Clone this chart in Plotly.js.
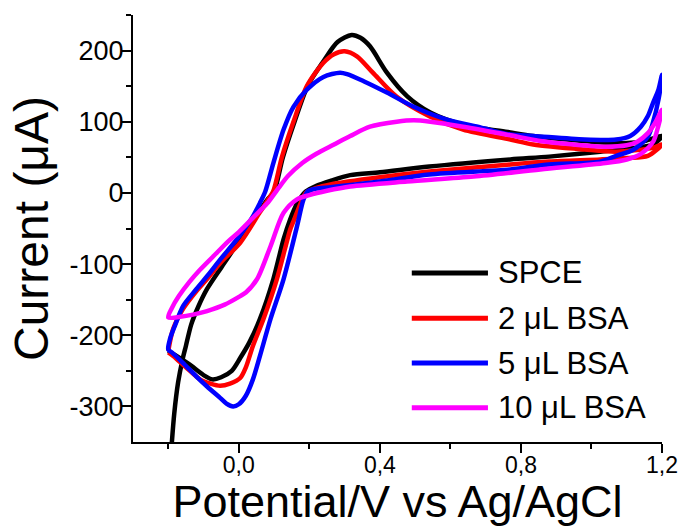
<!DOCTYPE html>
<html>
<head>
<meta charset="utf-8">
<script src="https://cdn.plot.ly/plotly-3.0.1.min.js"></script>
<style>html,body{margin:0;padding:0;background:#fff;}#chart{width:686px;height:527px;}</style>
</head>
<body>
<div id="chart"></div>
<script>
// ---- Data ----
const seriesNames = ["SPCE", "2 \u03bcL BSA", "5 \u03bcL BSA", "10 \u03bcL BSA"];
const seriesColors = ["#000000", "#ff0000", "#0000ff", "#ff00ff"];

// SPCE: initial tail, anodic scan, cathodic scan
const spceX = [-0.192, -0.183, -0.172, -0.160, -0.150, -0.135, -0.115, -0.090, -0.050, -0.016, 0.020, 0.052, 0.080, 0.100, 0.125, 0.158, 0.195, 0.240, 0.280, 0.320, 0.345, 0.372, 0.420, 0.477, 0.543, 0.636, 0.770, 0.835, 0.930, 1.000, 1.100, 1.150, 1.200,
  1.175, 1.120, 1.025, 0.880, 0.770, 0.540, 0.400, 0.316, 0.260, 0.220, 0.190, 0.165, 0.145, 0.127, 0.098, 0.060, 0.030, 0.004, -0.020, -0.050, -0.075, -0.100, -0.140, -0.180, -0.200];
const spceY = [-365, -310, -266, -235, -215, -185, -160, -135, -105, -80, -52, -30, -10, 2, 50, 100, 150, 185, 212, 222, 218, 206, 169, 136, 113, 96, 85, 80, 75, 72, 70, 73, 80,
  68, 63, 58, 51, 47, 37, 29, 25, 17, 10, 2, -15, -38, -65, -121, -177, -210, -232, -250, -259, -262, -256, -241, -228, -222];

// 2 uL BSA
const bsa2X = [-0.200, -0.186, -0.158, -0.120, -0.090, -0.050, 0.004, 0.060, 0.080, 0.098, 0.122, 0.155, 0.193, 0.240, 0.270, 0.300, 0.335, 0.380, 0.448, 0.543, 0.636, 0.770, 0.835, 0.980, 1.070, 1.170, 1.200,
  1.160, 1.100, 1.025, 0.880, 0.770, 0.540, 0.400, 0.260, 0.220, 0.190, 0.175, 0.155, 0.146, 0.108, 0.070, 0.040, 0.020, 0.004, -0.025, -0.053, -0.080, -0.110, -0.150, -0.186, -0.200];
const bsa2Y = [-222, -191, -163, -138, -121, -97, -70, -27, -12, 3, 50, 100, 150, 183, 195, 199, 192, 169, 135, 107, 89, 75, 68, 61, 58, 63, 68,
  52, 49, 47, 44, 40, 30, 22, 12, 7, 0, -15, -40, -51, -121, -177, -215, -245, -260, -268, -271, -268, -262, -245, -229, -224];

// 5 uL BSA
const bsa5X = [-0.200, -0.195, -0.180, -0.158, -0.120, -0.090, -0.050, -0.005, 0.040, 0.060, 0.075, 0.098, 0.127, 0.155, 0.193, 0.240, 0.287, 0.307, 0.354, 0.420, 0.496, 0.590, 0.685, 0.770, 0.835, 0.980, 1.070, 1.110, 1.140, 1.160, 1.175, 1.190, 1.200,
  1.190, 1.175, 1.160, 1.120, 1.070, 1.025, 0.880, 0.770, 0.540, 0.400, 0.260, 0.220, 0.195, 0.183, 0.165, 0.127, 0.090, 0.060, 0.040, 0.020, 0.000, -0.016, -0.035, -0.053, -0.090, -0.120, -0.160, -0.190, -0.200];
const bsa5Y = [-220, -205, -185, -159, -135, -117, -92, -65, -33, -14, 2, 42, 89, 121, 145, 163, 169, 167, 157, 141, 121, 103, 92, 82, 80, 75, 75, 80, 93, 108, 127, 145, 166,
  131, 100, 79, 61, 52, 44, 40, 33, 26, 16, 8, 6, 2, -10, -47, -121, -177, -229, -262, -285, -297, -300, -296, -288, -272, -258, -238, -224, -220];

// 10 uL BSA
const bsa10X = [-0.200, -0.190, -0.170, -0.140, -0.110, -0.070, -0.030, 0.000, 0.040, 0.080, 0.110, 0.140, 0.180, 0.220, 0.270, 0.316, 0.372, 0.448, 0.496, 0.543, 0.636, 0.770, 0.855, 0.950, 1.040, 1.100, 1.130, 1.160, 1.180, 1.200,
  1.190, 1.175, 1.140, 1.100, 1.040, 0.855, 0.666, 0.477, 0.316, 0.250, 0.200, 0.165, 0.127, 0.090, 0.052, 0.020, 0.004, -0.040, -0.090, -0.130, -0.166, -0.200];
const bsa10Y = [-175, -162, -145, -125, -108, -88, -68, -55, -35, -15, 5, 24, 42, 55, 68, 80, 93, 100, 102, 100, 93, 81, 73, 68, 65, 67, 72, 84, 98, 117,
  95, 72, 55, 47, 42, 33, 23, 16, 9, 3, -3, -9, -28, -75, -121, -140, -145, -157, -166, -171, -174, -175];

const seriesX = [spceX, bsa2X, bsa5X, bsa10X];
const seriesY = [spceY, bsa2Y, bsa5Y, bsa10Y];

// Axes
const xTickVals = [0.0, 0.4, 0.8, 1.2];
const xTickText = ["0,0", "0,4", "0,8", "1,2"];
const xMinorVals = [-0.2, 0.2, 0.6, 1.0];
const yTickVals = [-300, -200, -100, 0, 100, 200];
const yTickText = ["-300", "-200", "-100", "0", "100", "200"];
const yMinorVals = [-250, -150, -50, 50, 150, 250];
const xRange = [-0.3, 1.2];
const yRange = [-350, 250];
const xTitle = "Potential/V vs Ag/AgCl";
const yTitle = "Current (\u03bcA)";

// ---- Build figure ----
const FONT = "Liberation Sans, Arial, Helvetica, sans-serif";
const traces = seriesX.map((xs, i) => ({
  type: "scatter", mode: "lines", name: seriesNames[i],
  x: xs, y: seriesY[i],
  line: {color: seriesColors[i], width: 4.5, shape: "spline", smoothing: 0.8},
  showlegend: false, hoverinfo: "skip"
}));

// Manual legend (long line samples like the reference)
const legRowsY = [0.396, 0.290, 0.185, 0.080];
const shapes = [];
const annotations = [];
seriesNames.forEach((n, i) => {
  shapes.push({type: "line", xref: "paper", yref: "paper", x0: 0.527, x1: 0.671, y0: legRowsY[i], y1: legRowsY[i],
    line: {color: seriesColors[i], width: 5}});
  annotations.push({xref: "paper", yref: "paper", x: 0.686, y: legRowsY[i], xanchor: "left", yanchor: "middle",
    text: n, showarrow: false, font: {family: FONT, size: 31, color: "#000"}});
});

const axisCommon = {
  showgrid: false, zeroline: false, showline: true, linecolor: "#000", linewidth: 2,
  ticks: "outside", ticklen: 9, tickwidth: 2, tickcolor: "#000", tickmode: "array"
};

const layout = {
  width: 686, height: 527,
  margin: {l: 133, r: 24, t: 15, b: 85},
  paper_bgcolor: "#fff", plot_bgcolor: "#fff",
  font: {family: FONT, color: "#000"},
  xaxis: Object.assign({}, axisCommon, {
    range: xRange, tickvals: xTickVals, ticktext: xTickText, ticklabelstandoff: -8,
    tickfont: {family: FONT, size: 23, color: "#000"},
    minor: {tickmode: "array", tickvals: xMinorVals, ticks: "outside", ticklen: 5, tickwidth: 2, tickcolor: "#000"},
    title: {text: xTitle, font: {family: FONT, size: 45, color: "#000"}, standoff: 0}
  }),
  yaxis: Object.assign({}, axisCommon, {
    range: yRange, tickvals: yTickVals, ticktext: yTickText, ticklabelstandoff: -7,
    tickfont: {family: FONT, size: 27, color: "#000"},
    minor: {tickmode: "array", tickvals: yMinorVals, ticks: "outside", ticklen: 5, tickwidth: 2, tickcolor: "#000"},
    title: {text: yTitle, font: {family: FONT, size: 48, color: "#000"}, standoff: 6}
  }),
  shapes: shapes,
  annotations: annotations,
  showlegend: false
};

Plotly.newPlot("chart", traces, layout, {staticPlot: true, displayModeBar: false});
</script>
</body>
</html>
